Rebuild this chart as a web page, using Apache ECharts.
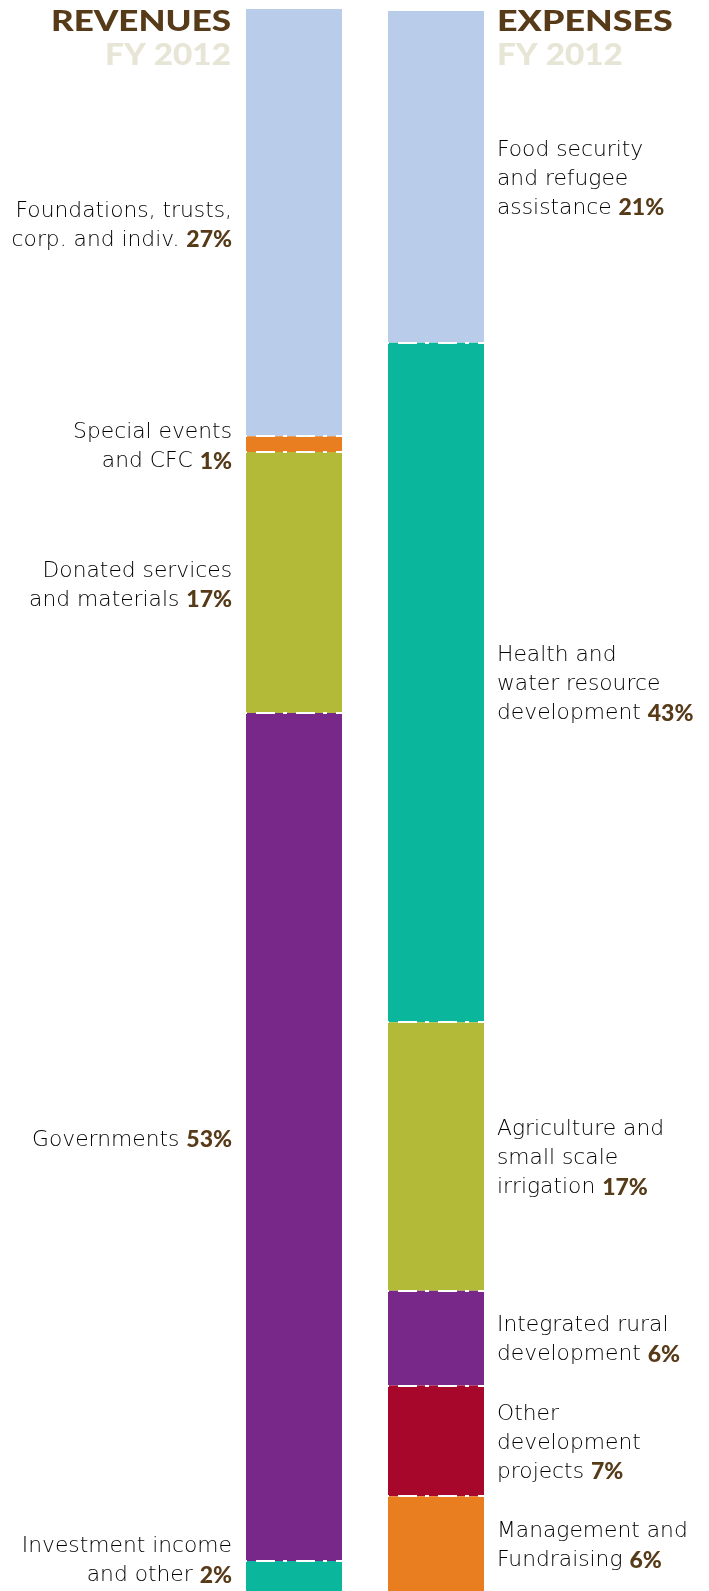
<!DOCTYPE html>
<html>
<head>
<meta charset="utf-8">
<script src="https://cdn.jsdelivr.net/npm/echarts@6/dist/echarts.min.js"></script>
<style>
html,body{margin:0;padding:0;background:#fff;}
#chart{width:709px;height:1591px;}
</style>
</head>
<body>
<div id="chart"></div>
<script>
// Revenues FY 2012 (top to bottom)
const revNames = ['Foundations, trusts,\ncorp. and indiv.', 'Special events\nand CFC', 'Donated services\nand materials', 'Governments', 'Investment income\nand other'];
const revPct = ['27%', '1%', '17%', '53%', '2%'];
const revValues = [27.0, 1.0, 16.5, 53.6, 1.9];
const revColors = ['#b9cdea', '#e87e1f', '#b3ba37', '#782889', '#0ab79c'];

// Expenses FY 2012 (top to bottom)
const expNames = ['Food security\nand refugee\nassistance', 'Health and\nwater resource\ndevelopment', 'Agriculture and\nsmall scale\nirrigation', 'Integrated rural\ndevelopment', 'Other\ndevelopment\nprojects', 'Management and\nFundraising'];
const expPct = ['21%', '43%', '17%', '6%', '7%', '6%'];
const expValues = [21, 43, 17, 6, 7, 6];
const expColors = ['#b9cdea', '#0ab79c', '#b3ba37', '#782889', '#a6072b', '#e87e1f'];

const LABEL_FONT = 'DejaVu Sans';
const BROWN = '#573a18';

function buildSeries(names, pct, values, colors, idx, side) {
  let cum = 0;
  return values.map(function (v, i) {
    const start = cum;
    cum += v;
    let dy = idx === 0 ? 3 : 2;
    if (idx === 0 && i === values.length - 1) dy = -15;
    const s = {
      type: 'bar',
      name: names[i],
      xAxisIndex: idx,
      yAxisIndex: idx,
      stack: 'stack' + idx,
      barWidth: '100%',
      data: [v],
      itemStyle: { color: colors[i] },
      silent: true,
      label: {
        show: true,
        position: side,
        distance: side === 'left' ? 14 : 13,
        formatter: names[i] + ' {p|' + pct[i] + '}',
        fontFamily: LABEL_FONT,
        fontWeight: 200,
        fontSize: 21.8,
        lineHeight: 29,
        color: '#000000',
        align: side === 'left' ? 'right' : 'left',
        offset: [0, dy],
        rich: {
          p: { fontFamily: 'Lato', fontWeight: 900, fontSize: 23, lineHeight: 29, color: BROWN }
        }
      }
    };
    if (i > 0) {
      s.markLine = {
        silent: true,
        symbol: ['none', 'none'],
        label: { show: false },
        lineStyle: { color: '#ffffff', width: 2, type: [19, 8, 4, 9], dashOffset: 30, opacity: 1 },
        emphasis: { disabled: true },
        data: [{ yAxis: start }]
      };
    }
    return s;
  });
}

const chart = echarts.init(document.getElementById('chart'), null, { renderer: 'canvas' });
const option = {
  animation: false,
  backgroundColor: '#ffffff',
  grid: [
    { left: 246, width: 96, top: 9, height: 1582 },
    { left: 388, width: 96, top: 11, height: 1580 }
  ],
  xAxis: [
    { type: 'category', gridIndex: 0, data: ['Revenues'], show: false },
    { type: 'category', gridIndex: 1, data: ['Expenses'], show: false }
  ],
  yAxis: [
    { type: 'value', gridIndex: 0, min: 0, max: 100, inverse: true, show: false },
    { type: 'value', gridIndex: 1, min: 0, max: 100, inverse: true, show: false }
  ],
  graphic: [
    { type: 'text', x: 231, y: 22, scaleX: 1.25, style: { text: 'REVENUES', fill: BROWN, font: '900 28px Lato', textAlign: 'right', textVerticalAlign: 'middle' } },
    { type: 'text', x: 231, y: 55, scaleX: 1.11, style: { text: 'FY 2012', fill: '#e7e5d5', font: '900 30px Lato', textAlign: 'right', textVerticalAlign: 'middle' } },
    { type: 'text', x: 497, y: 22, scaleX: 1.28, style: { text: 'EXPENSES', fill: BROWN, font: '900 28px Lato', textAlign: 'left', textVerticalAlign: 'middle' } },
    { type: 'text', x: 497, y: 55, scaleX: 1.11, style: { text: 'FY 2012', fill: '#e7e5d5', font: '900 30px Lato', textAlign: 'left', textVerticalAlign: 'middle' } }
  ],
  series: buildSeries(revNames, revPct, revValues, revColors, 0, 'left')
    .concat(buildSeries(expNames, expPct, expValues, expColors, 1, 'right'))
};
chart.setOption(option);
</script>
</body>
</html>
